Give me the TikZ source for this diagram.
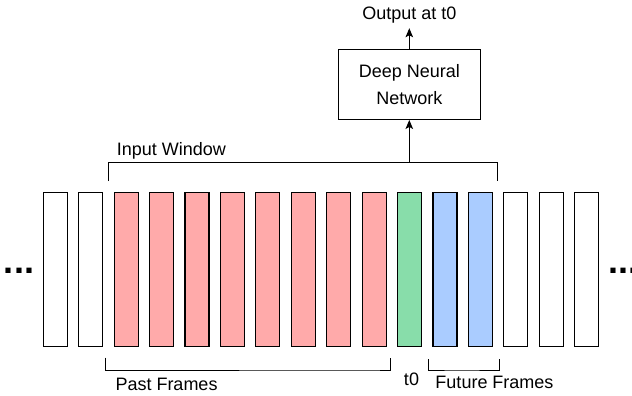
\documentclass[tikz,border=0pt]{standalone}
\usepackage{fontspec}
\setmainfont{Liberation Sans}
\usetikzlibrary{arrows.meta}

\definecolor{pastred}{HTML}{FFAAAA}
\definecolor{nowgreen}{HTML}{88DDAA}
\definecolor{futblue}{HTML}{AACCFF}

\begin{document}
\begin{tikzpicture}[x=1pt,y=-1pt,
	frame/.style={draw, line width=1.1pt, minimum width=24pt, minimum height=154pt, inner sep=0pt},
	label/.style={font=\fontsize{18}{27}\selectfont, inner sep=0pt},
	arr/.style={line width=1pt, -{Stealth[length=9pt,width=7.5pt,inset=2pt]}},
	brace/.style={line width=1pt}]
	\useasboundingbox (0,0) rectangle (632,396);

	% Draw the frames
	\foreach \i in {0,1,13,14,15}
		\node[frame, fill=white] (f\i) at ({55.3+35.43*\i},269.2) {};
	\foreach \i in {2,...,9}
		\node[frame, fill=pastred] (f\i) at ({55.3+35.43*\i},269.2) {};
	\node[frame, fill=nowgreen] (f10) at ({55.3+35.43*10},269.2) {};
	\foreach \i in {11,12}
		\node[frame, fill=futblue] (f\i) at ({55.3+35.43*\i},269.2) {};

	% Dots at both ends
	\node[label, font=\fontsize{36}{40}\selectfont\bfseries, anchor=base] (dotsL) at (19,273) {...};
	\node[label, font=\fontsize{36}{40}\selectfont\bfseries, anchor=base] (dotsR) at (623,273) {...};

	% Network and output
	\node[draw, line width=1pt, minimum width=142pt, minimum height=70.3pt, label, align=center] (dnn) at (409.3,84.3) {Deep Neural\\Network};
	\node[label, anchor=base, inner sep=5pt] (out) at (409.3,19.3) {Output at t0};
	\draw[arr] (dnn.north) -- (out.south);

	% Input window bracket
	\coordinate (winL) at (108.3,181);
	\coordinate (winTop) at (108.3,162.7);
	\coordinate (winR) at (497.7,181);
	\draw[brace] (winL) -- (winTop) -| (winR);
	\draw[arr] (dnn.south |- winTop) -- (dnn.south);
	\node[label, anchor=base west] (inwin) at (116.7,155) {Input Window};

	% Past and future brackets
	\coordinate (pastL) at (105.5,357.5);
	\coordinate (pastR) at (390.3,358.3);
	\draw[brace] (pastL) |- (370,370) -| (pastR);
	\coordinate (futL) at (428.3,359);
	\coordinate (futR) at (499.3,359);
	\draw[brace] (futL) |- (460,370) -| (futR);
	\node[label, anchor=base west] (past) at (115.3,390.5) {Past Frames};
	\node[label, anchor=base] (now) at (411.5,385) {t0};
	\node[label, anchor=base] (future) at (494.5,388) {Future Frames};
\end{tikzpicture}
\end{document}
